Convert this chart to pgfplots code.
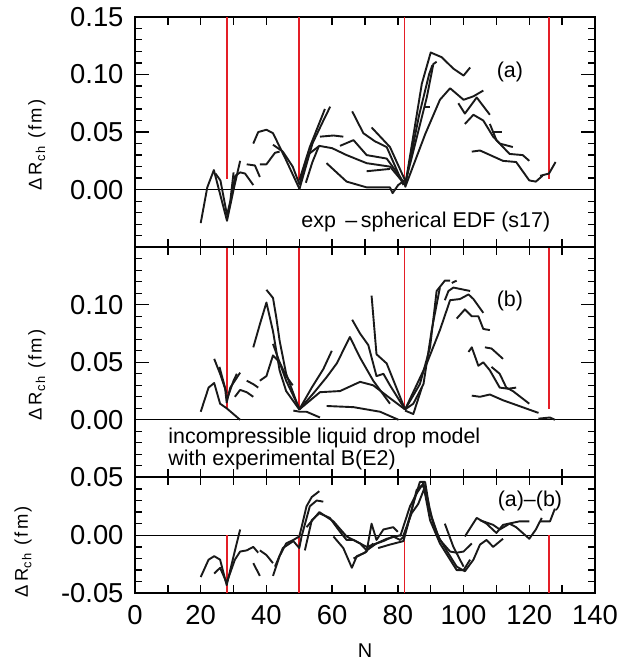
\documentclass[border=0pt]{standalone}
\usepackage{fontspec}
\setmainfont{Liberation Sans}
\newfontfamily\labfont[LetterSpace=12]{Liberation Sans}
\usepackage{pgfplots}
\pgfplotsset{compat=1.18}
\definecolor{refred}{RGB}{228,30,38}
\definecolor{curve}{RGB}{25,25,25}
\newcommand{\dRlabel}{{\labfont\fontsize{18.5}{22}\selectfont Δ\,R\textsubscript{ch} (fm)}}
\begin{document}
\begin{tikzpicture}[x=1bp,y=1bp]
\pgfplotsset{
  panel/.style={
    scale only axis, width=460bp, xmin=0, xmax=140,
    xtick={0,20,...,140}, minor xtick={10,30,...,130},
    tick align=inside, scaled y ticks=false, scaled x ticks=false,
    major tick length=14bp, minor tick length=7bp,
    xtick style={/pgfplots/major tick length=8bp,/pgfplots/minor tick length=8bp},
    axis line style={line width=1.8bp},
    every tick/.style={black, line width=1.3bp},
    yticklabel={\pgfmathprintnumber[fixed,fixed zerofill,precision=2,assume math mode=true]{\tick}},
    tick label style={font=\fontsize{27.5}{32}\selectfont},
    yticklabel style={xshift=-8bp},
    xticklabel style={yshift=-9bp},
    label style={font=\fontsize{20}{24}\selectfont},
  },
  cv/.style={line width=1.9bp, curve, line join=round},
  rl/.style={line width=1.8bp, refred},
  zl/.style={line width=0.9bp, black},
}
% ---------------- panel (c) ----------------
\begin{axis}[panel, at={(0bp,0bp)}, anchor=south west, height=116bp,
  ymin=-0.05, ymax=0.05, ytick={-0.05,0,0.05}, minor ytick={-0.04,-0.03,-0.02,-0.01,0.01,0.02,0.03,0.04},
  xticklabel={\pgfmathprintnumber[assume math mode=true]{\tick}},
  xlabel={N}, xlabel style={yshift=-12bp}]
\addplot[zl] coordinates {(0,0) (140,0)};
\addplot[rl] coordinates {(28,-0.05) (28,0)};
\addplot[rl] coordinates {(50,-0.05) (50,0)};
\addplot[rl] coordinates {(82,-0.05) (82,0)};
\addplot[rl] coordinates {(126,-0.05) (126,0)};
\addplot[cv] coordinates {(20,-0.036)(22.4,-0.021)(24.1,-0.018)(25.9,-0.021)(27.9,-0.043)(30,-0.018)(32,0.005)};
\addplot[cv] coordinates {(24.1,-0.033)(25.9,-0.028)(27.9,-0.041)(30.4,-0.021)(32,-0.014)(34,-0.013)(36,-0.010)(37.5,-0.015)};
\addplot[cv] coordinates {(36,-0.024)(38,-0.035)};
\addplot[cv] coordinates {(38,-0.013)(40,-0.017)(42,-0.024)};
\addplot[cv] coordinates {(42,-0.035)(44,-0.018)(46,-0.007)(48.2,-0.004)(50,-0.001)(50.7,0.007)(52.2,0.025)(53.8,0.033)(56.1,0.038)};
\addplot[cv] coordinates {(42.6,-0.027)(45,-0.011)(48.2,-0.005)(50,-0.011)(50.7,-0.001)(53.2,0.025)(55.3,0.030)(57.3,0.029)};
\addplot[cv] coordinates {(51.7,-0.013)(53.8,0.013)(56.1,0.019)(59.3,0.015)(62.4,0.003)(64.4,-0.004)(66.5,-0.004)(70.5,-0.010)(72.5,-0.008)(75.6,-0.005)(78.6,-0.001)(80.7,-0.004)(82.2,0.000)};
\addplot[cv] coordinates {(52.2,0.007)(56.1,0.020)(60.4,0.012)(64.4,-0.001)(68.5,-0.007)(70.5,-0.013)(73.5,-0.007)(76.6,-0.003)(80.7,0.000)};
\addplot[cv] coordinates {(60.4,-0.001)(63.4,-0.011)(66,-0.028)(67.5,-0.018)(70,-0.015)(72.5,-0.007)};
\addplot[cv] coordinates {(66.5,-0.020)(70.5,-0.014)(72,0.010)(73.5,-0.004)(75.6,0.005)(78.6,0.007)(80,0.003)};
\addplot[cv] coordinates {(74,-0.011)(77.6,-0.008)(81.7,-0.005)(83.7,0.016)(85.7,0.039)(87.3,0.043)(88.3,0.040)(90.3,0.016)(92.3,-0.001)(94.8,-0.013)(97.9,-0.027)(100.4,-0.031)(103,-0.021)(105,-0.008)(107,-0.004)(109,-0.010)(112,-0.003)};
\addplot[cv] coordinates {(80.7,-0.001)(83.7,0.025)(85.7,0.036)(87.8,0.045)(88.8,0.030)(90.8,0.010)(92.8,-0.004)(95.9,-0.014)(97.9,-0.015)(100,-0.014)(102.5,-0.007)};
\addplot[cv] coordinates {(81.7,0.000)(84.2,0.019)(86.2,0.027)(88,0.040)(89.8,0.013)(92.8,-0.007)(95.9,-0.021)(97.9,-0.030)(100,-0.030)(102,-0.021)};
\addplot[cv] coordinates {(82.2,0.002)(85,0.030)(86.7,0.046)(88.3,0.046)(89.5,0.025)};
\addplot[cv] coordinates {(94.3,0.010)(96.9,-0.010)(100,-0.027)};
\addplot[cv] coordinates {(100.4,-0.001)(104,0.015)(107,0.010)(110,0.002)(112,0.009)(117,0.012)(120,0.012)};
\addplot[cv] coordinates {(105,0.013)(109,0.009)(111,0.005)(114,0.010)(116,0.007)(118,0.002)(120,-0.003)(122,0.005)(123.8,0.015)};
\addplot[cv] coordinates {(123.3,0.012)(126.3,0.012)(127.8,0.023)};
\node[font=\fontsize{21.5}{24}\selectfont] at (axis cs:120.2,0.030) {(a)–(b)};
\end{axis}
% ---------------- panel (b) ----------------
\begin{axis}[panel, at={(0bp,116bp)}, anchor=south west, height=230bp,
  ymin=-0.05, ymax=0.15, ytick={0,0.05,0.1}, minor ytick={-0.04,-0.03,-0.02,-0.01,0.01,0.02,0.03,0.04,0.06,0.07,0.08,0.09,0.11,0.12,0.13,0.14},
  xticklabels={}]
\addplot[zl] coordinates {(0,0) (140,0)};
\addplot[rl] coordinates {(28,0.0095) (28,0.15)};
\addplot[rl] coordinates {(50,0.0095) (50,0.15)};
\addplot[rl] coordinates {(82,0.0095) (82,0.15)};
\addplot[rl] coordinates {(126,0.0095) (126,0.15)};
\addplot[cv] coordinates {(20,0.007)(22.4,0.028)(24.1,0.032)(25.9,0.014)(27.9,0.010)(32,0.000)};
\addplot[cv] coordinates {(24.1,0.053)(25.9,0.040)(27.9,0.023)};
\addplot[cv] coordinates {(25.7,0.046)(27.4,0.028)(27.9,0.015)(29,0.028)(32,0.041)};
\addplot[cv] coordinates {(28,0.018)(30,0.034)(31,0.040)};
\addplot[cv] coordinates {(30.4,0.020)(32,0.026)(34,0.024)(36,0.020)};
\addplot[cv] coordinates {(34,0.034)(36,0.031)(37.5,0.028)};
\addplot[cv] coordinates {(38,0.034)(40,0.038)(42,0.056)(44,0.050)(46,0.038)(48,0.030)};
\addplot[cv] coordinates {(36,0.063)(38,0.083)(40,0.102)(42,0.077)(44,0.043)(46,0.025)(50,0.009)};
\addplot[cv] coordinates {(40,0.113)(42,0.106)(43,0.089)(44,0.069)(46,0.040)(50,0.009)};
\addplot[cv] coordinates {(42,0.066)(44,0.050)(46,0.034)(50,0.010)};
\addplot[cv] coordinates {(48.2,0.008)(50.2,0.007)(52.2,0.007)(56.3,0.002)};
\addplot[cv] coordinates {(50,0.009)(53.8,0.028)(57.3,0.044)(59.9,0.060)};
\addplot[cv] coordinates {(50,0.009)(54.3,0.023)(58.3,0.037)(61.4,0.049)(65.4,0.072)(68.5,0.054)(72.5,0.034)(77.6,0.014)};
\addplot[cv] coordinates {(50,0.009)(56.3,0.024)(62.4,0.025)(68.5,0.033)(72.5,0.030)(76.6,0.021)(82.2,0.009)};
\addplot[cv] coordinates {(58.3,0.012)(66.5,0.011)(74.6,0.007)(80.2,0.000)};
\addplot[cv] coordinates {(66.1,0.087)(68.5,0.075)(71,0.065)(73.5,0.038)(75.6,0.040)(77.6,0.030)(82.2,0.009)};
\addplot[cv] coordinates {(72,0.108)(73.5,0.057)(76.6,0.049)(82.2,0.009)};
\addplot[cv] coordinates {(82.2,0.009)(86.7,0.031)(89.8,0.063)(91.8,0.112)(94.3,0.121)(95.9,0.121)};
\addplot[cv] coordinates {(82.2,0.009)(84.7,0.014)(87.8,0.031)(90.3,0.078)(92.8,0.115)};
\addplot[cv] coordinates {(94.3,0.104)(95.4,0.112)(96.9,0.115)(102,0.112)};
\addplot[cv] coordinates {(96.4,0.119)(97.9,0.121)};
\addplot[cv] coordinates {(82.2,0.009)(88.8,0.049)(92.8,0.078)(95.9,0.104)(98.9,0.105)(101.5,0.109)(103,0.105)(106,0.093)};
\addplot[cv] coordinates {(97.9,0.088)(100.4,0.096)(102.5,0.090)(104.5,0.090)(106,0.079)(108,0.078)};
\addplot[cv] coordinates {(101.5,0.059)(102.5,0.063)(104.5,0.047)(106,0.050)(108,0.043)(111,0.028)(113.6,0.027)(116,0.028)};
\addplot[cv] coordinates {(106.5,0.063)(108.5,0.062)(112,0.053)};
\addplot[cv] coordinates {(108.5,0.046)(111,0.040)(113,0.028)(115,0.025)(120,0.014)};
\addplot[cv] coordinates {(102.5,0.021)(105,0.020)(108,0.022)(112,0.017)(122.8,0.006)};
\addplot[cv] coordinates {(122.8,0.001)(126.3,0.002)(127.8,0.000)};
\addplot[cv] coordinates {(82.2,0.008)(84.7,0.005)(87.3,0.028)};
\node[font=\fontsize{21.5}{24}\selectfont] at (axis cs:114.1,0.1036) {(b)};
\node[font=\fontsize{21.5}{24}\selectfont, anchor=base west, inner sep=0pt] at (axis cs:10.1,-0.0203) {incompressible liquid drop model};
\node[font=\fontsize{21.5}{24}\selectfont, anchor=base west, inner sep=0pt] at (axis cs:10.1,-0.0397) {with experimental B(E2)};
\end{axis}
% ---------------- panel (a) ----------------
\begin{axis}[panel, at={(0bp,346bp)}, anchor=south west, height=230.5bp,
  ymin=-0.05, ymax=0.15, ytick={0,0.05,0.1,0.15}, minor ytick={-0.04,-0.03,-0.02,-0.01,0.01,0.02,0.03,0.04,0.06,0.07,0.08,0.09,0.11,0.12,0.13,0.14},
  xticklabels={}]
\addplot[zl] coordinates {(0,0) (140,0)};
\addplot[rl] coordinates {(28,0.0095) (28,0.15)};
\addplot[rl] coordinates {(50,0.008) (50,0.15)};
\addplot[rl] coordinates {(82,0.007) (82,0.15)};
\addplot[rl] coordinates {(126,0.0095) (126,0.15)};
\addplot[cv] coordinates {(20,-0.029)(22,0.002)(24,0.017)(26,-0.005)(28,-0.027)(30,0.000)(32,0.025)};
\addplot[cv] coordinates {(24.5,0.014)(26,0.008)(28,-0.022)(29,-0.010)(30,0.015)};
\addplot[cv] coordinates {(29,-0.012)(30.5,0.012)(32,0.015)(33.5,0.014)(36,0.004)};
\addplot[cv] coordinates {(34,0.022)(36.5,0.021)(38,0.011)};
\addplot[cv] coordinates {(38,0.022)(40,0.022)(42.6,0.032)(44,0.033)};
\addplot[cv] coordinates {(36,0.040)(37.5,0.050)(40,0.052)(42,0.049)(45.6,0.028)(50,0.001)};
\addplot[cv] coordinates {(42,0.039)(45,0.033)(48,0.020)(50,0.005)};
\addplot[cv] coordinates {(50,0.000)(54,0.040)(57,0.058)(59.4,0.072)};
\addplot[cv] coordinates {(50,0.008)(53.2,0.037)(57.8,0.070)};
\addplot[cv] coordinates {(52,0.006)(54,0.024)(56,0.038)};
\addplot[cv] coordinates {(50,0.004)(52.5,0.030)(56.1,0.038)(60,0.036)(64.4,0.030)(70.5,0.023)(77.6,0.020)(81.7,0.006)};
\addplot[cv] coordinates {(56.3,0.046)(60.4,0.047)(63.4,0.046)};
\addplot[cv] coordinates {(62.4,0.038)(66.5,0.043)(70.5,0.030)(76.6,0.027)(80.7,0.011)(82.2,0.004)};
\addplot[cv] coordinates {(58.3,0.023)(64.4,0.007)(70.5,0.002)(77.6,0.002)(78.4,-0.003)(80.1,0.004)(82,0.008)};
\addplot[cv] coordinates {(70.5,0.016)(77.6,0.018)};
\addplot[cv] coordinates {(66.1,0.068)(69.5,0.049)(73,0.042)(76.6,0.037)(81.7,0.004)};
\addplot[cv] coordinates {(72,0.054)(77.6,0.037)(82.2,0.008)};
\addplot[cv] coordinates {(82.2,0.003)(87.3,0.092)(90,0.119)(93.3,0.115)(96.9,0.105)(100,0.099)(102,0.106)};
\addplot[cv] coordinates {(82.2,0.005)(88.8,0.080)(90.8,0.109)(91.8,0.111)};
\addplot[cv] coordinates {(82.2,0.004)(86.5,0.065)(89.5,0.100)(90.5,0.108)};
\addplot[cv] coordinates {(82.2,0.002)(88.3,0.048)(92.8,0.078)(95.9,0.088)(100,0.078)(103,0.081)(106,0.086)};
\addplot[cv] coordinates {(88.3,0.072)(89.8,0.072)};
\addplot[cv] coordinates {(98.4,0.075)(100.4,0.066)(104,0.080)(108,0.065)};
\addplot[cv] coordinates {(100.4,0.057)(103,0.065)(106,0.060)(109,0.046)(111,0.040)(115,0.037)};
\addplot[cv] coordinates {(108,0.057)(110,0.043)(114,0.031)(118,0.030)(120,0.025)};
\addplot[cv] coordinates {(108.6,0.050)(111.6,0.050)};
\addplot[cv] coordinates {(102.5,0.033)(105,0.034)(112,0.025)(116,0.024)(120,0.008)(122,0.007)(124,0.012)};
\addplot[cv] coordinates {(123.3,0.012)(126,0.014)(128,0.024)};
\node[font=\fontsize{21.5}{24}\selectfont] at (axis cs:114.1,0.102) {(a)};
\node[font=\fontsize{21.5}{24}\selectfont, anchor=base, inner sep=0pt] at (axis cs:88.5,-0.0325) {exp \,–\,spherical EDF (s17)};
\end{axis}
% y-axis titles
\node[rotate=90, anchor=base, inner sep=0pt] at (-93.3bp,448.3bp) {\dRlabel};
\node[rotate=90, anchor=base, inner sep=0pt] at (-93.3bp,218.3bp) {\dRlabel};
\node[rotate=90, anchor=base, inner sep=0pt] at (-107bp,41.6bp) {\dRlabel};
\pgfresetboundingbox
\path[use as bounding box] (-135bp,-68.7bp) rectangle (496bp,593.3bp);
\end{tikzpicture}
\end{document}
